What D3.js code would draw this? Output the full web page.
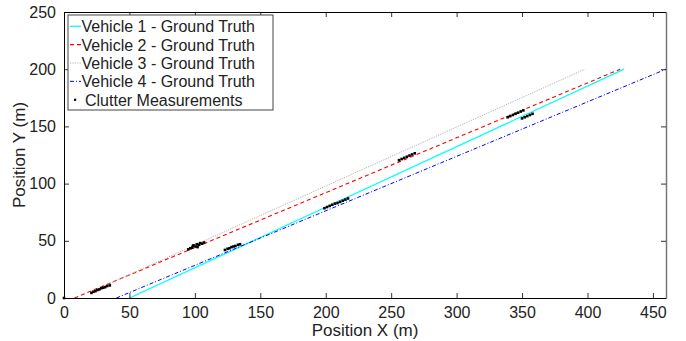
<!DOCTYPE html>
<html>
<head>
<meta charset="utf-8">
<script src="https://cdn.jsdelivr.net/npm/d3@7/dist/d3.min.js"></script>
<style>
  html, body { margin: 0; padding: 0; background: #fff; }
  svg { display: block; font-family: "Liberation Sans", Arial, Helvetica, sans-serif; }
</style>
</head>
<body>
<svg id="chart" width="686" height="341"></svg>
<script>
// ---- data ----
const seriesNames = ["Vehicle 1 - Ground Truth", "Vehicle 2 - Ground Truth", "Vehicle 3 - Ground Truth", "Vehicle 4 - Ground Truth"];
const v1X = [50, 428];  const v1Y = [0, 200];
const v2X = [8, 425];   const v2Y = [0, 200];
const v3X = [20, 398];  const v3Y = [5, 200];
const v4X = [40, 460];  const v4Y = [0, 200];
const clutterLabel = "Clutter Measurements";
const clutterX = [0,
  21, 22.5, 24, 25.5, 27, 28.5, 30, 31.5, 33, 35,
  95, 96.5, 98, 99, 100.5, 101.5, 103, 104, 105.5, 107, 98.5, 102,
  123, 125, 126.5, 128, 129.5, 131, 133, 134.5,
  199, 201, 203, 205, 207, 209, 211, 213, 215, 217,
  256, 258, 260, 262, 264, 266, 268,
  339, 341, 343, 345, 347, 349, 351,
  350, 352, 354, 356, 358];
const clutterY = [0,
  4.5, 5.5, 6, 7, 7.5, 8.5, 9, 9.5, 10.5, 11,
  42.5, 43.5, 44, 46, 45, 47, 46.5, 48, 47.5, 48.5, 45.5, 44.5,
  42, 43, 43.5, 44.5, 45, 45.5, 46.5, 47,
  78.5, 79.5, 80.5, 81.5, 82.5, 83, 84, 85, 86, 87,
  120.5, 121.5, 122.5, 123.5, 124.5, 125.5, 126.5,
  158, 159, 160, 161, 162, 163, 164,
  157, 158, 159, 160, 161];
const xTicks = [0, 50, 100, 150, 200, 250, 300, 350, 400, 450];
const yTicks = [0, 50, 100, 150, 200, 250];
const xLabel = "Position X (m)";
const yLabel = "Position Y (m)";

// ---- layout ----
const svg = d3.select("#chart");
const pL = 64, pR = 666, pT = 12, pB = 298;
const x = d3.scaleLinear().domain([0, 460]).range([pL, pR]);
const y = d3.scaleLinear().domain([0, 250]).range([pB, pT]);

const seriesData = [
  {name: seriesNames[0], xs: v1X, ys: v1Y, color: "#00ffff", dash: null, width: 1.3},
  {name: seriesNames[1], xs: v2X, ys: v2Y, color: "#ff0000", dash: "4,3", width: 1.1},
  {name: seriesNames[2], xs: v3X, ys: v3Y, color: "#b0b0b0", dash: "1.2,1.2", width: 1},
  {name: seriesNames[3], xs: v4X, ys: v4Y, color: "#0000ff", dash: "4,2,1,2", width: 1}
];

const line = d3.line().x(d => x(d[0])).y(d => y(d[1]));

svg.append("defs").append("clipPath").attr("id", "clip")
  .append("rect").attr("x", pL).attr("y", pT).attr("width", pR - pL).attr("height", pB - pT);

const plot = svg.append("g");
const lines = plot.append("g").attr("clip-path", "url(#clip)");
seriesData.forEach(s => {
  lines.append("path")
    .datum(s.xs.map((v, i) => [v, s.ys[i]]))
    .attr("d", line)
    .attr("fill", "none")
    .attr("stroke", s.color)
    .attr("stroke-width", s.width)
    .attr("stroke-dasharray", s.dash);
});

// clutter
const clutter = clutterX.map((v, i) => [v, clutterY[i]]);
plot.append("g").selectAll("rect").data(clutter).enter().append("rect")
  .attr("x", d => x(d[0]) - 1.3).attr("y", d => y(d[1]) - 1.3)
  .attr("width", 2.6).attr("height", 2.6).attr("fill", "#000");

// axes
const tickLen = 5;
const axB = svg.append("g").attr("transform", `translate(0,${pB})`)
  .call(d3.axisBottom(x).tickValues(xTicks).tickSize(-tickLen).tickSizeOuter(0).tickPadding(9).tickFormat(d3.format("d")));
const axT = svg.append("g").attr("transform", `translate(0,${pT})`)
  .call(d3.axisTop(x).tickValues(xTicks).tickSize(-tickLen).tickSizeOuter(0).tickFormat(""));
const axL = svg.append("g").attr("transform", `translate(${pL},0)`)
  .call(d3.axisLeft(y).tickValues(yTicks).tickSize(-tickLen).tickSizeOuter(0).tickPadding(8).tickFormat(d3.format("d")));
const axR = svg.append("g").attr("transform", `translate(${pR},0)`)
  .call(d3.axisRight(y).tickValues(yTicks).tickSize(-tickLen).tickSizeOuter(0).tickFormat(""));
[axB, axT, axL, axR].forEach(a => {
  a.select(".domain").attr("stroke", "#000").attr("stroke-width", 1);
  a.selectAll(".tick line").attr("stroke", "#000").attr("stroke-width", 0.8);
  a.selectAll("text").attr("font-size", 16).attr("fill", "#222").attr("font-family", "Liberation Sans, Arial, sans-serif");
});
axR.select(".domain").attr("stroke", "#777").attr("stroke-width", 1.5);

// axis labels
svg.append("text").attr("x", (pL + pR) / 2).attr("y", 336).attr("text-anchor", "middle")
  .attr("font-size", 17).attr("fill", "#222").text(xLabel);
svg.append("text").attr("transform", `translate(25,${(pT + pB) / 2}) rotate(-90)`)
  .attr("text-anchor", "middle").attr("font-size", 17).attr("fill", "#222").text(yLabel);

// legend
const lg = svg.append("g");
const lgX = 68, lgY = 15, lgW = 205, lgH = 95, rowH = 18.35;
lg.append("rect").attr("x", lgX).attr("y", lgY).attr("width", lgW).attr("height", lgH)
  .attr("fill", "#fff").attr("stroke", "#444").attr("stroke-width", 1);
seriesData.forEach((s, i) => {
  const base = 32.3 + i * rowH;
  lg.append("line").attr("x1", lgX + 2).attr("x2", lgX + 13).attr("y1", base - 6).attr("y2", base - 6)
    .attr("stroke", s.color).attr("stroke-width", s.width).attr("stroke-dasharray", s.dash);
  lg.append("text").attr("x", lgX + 13.5).attr("y", base).attr("font-size", 16).attr("fill", "#222").text(s.name);
});
{
  const base = 32.3 + 4 * rowH;
  lg.append("rect").attr("x", lgX + 6).attr("y", base - 7).attr("width", 2.2).attr("height", 2.2).attr("fill", "#000");
  lg.append("text").attr("x", lgX + 17).attr("y", base).attr("font-size", 16).attr("fill", "#222").text(clutterLabel);
}
</script>
</body>
</html>
